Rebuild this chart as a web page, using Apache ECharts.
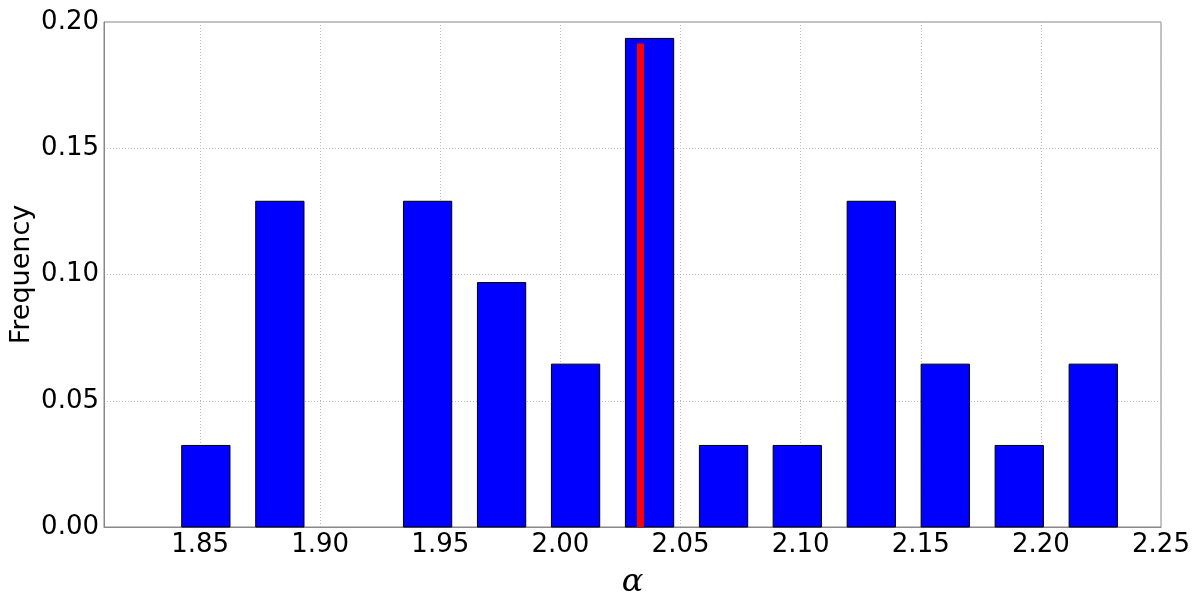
<!DOCTYPE html>
<html><head><meta charset="utf-8">
<script src="https://cdn.jsdelivr.net/npm/echarts@6/dist/echarts.min.js"></script>
<style>html,body{margin:0;padding:0;background:#fff}#c{width:1200px;height:594px}</style>
</head><body><div id="c"></div>
<script>
// Histogram bin centres (alpha) and normalised frequencies
const binCenters = [1.8524, 1.8832, 1.9140, 1.9447, 1.9755, 2.0063, 2.0371, 2.0679, 2.0986, 2.1294, 2.1602, 2.1910, 2.2218];
const frequencies = [0.0323, 0.1290, 0.0, 0.1290, 0.0968, 0.0645, 0.1935, 0.0323, 0.0323, 0.1290, 0.0645, 0.0323, 0.0645];
const barDataWidth = 0.0201;
// Reference marker (red line)
const markerX = 2.0333;
const markerTop = 0.1915;
const xTickLabels = ['1.85','1.90','1.95','2.00','2.05','2.10','2.15','2.20','2.25'];
const yTickLabels = ['0.00','0.05','0.10','0.15','0.20'];

const chart = echarts.init(document.getElementById('c'));
const font = 'DejaVu Sans';
chart.setOption({
  animation: false,
  grid: {left: 104, right: 39, top: 22, bottom: 67, show: true, borderColor: '#888', borderWidth: 1,
    backgroundColor: 'transparent', containLabel: false, outerBoundsMode: 'none'},
  xAxis: {
    type: 'value', min: 1.8100, max: 2.25, splitNumber: 9,
    name: 'α', nameLocation: 'middle', nameGap: 40, nameMoveOverlap: false,
    nameTextStyle: {fontFamily: 'DejaVu Serif', fontStyle: 'italic', fontSize: 32, color: '#000'},
    axisLine: {show: true, lineStyle: {color: '#888'}},
    axisTick: {show: false},
    axisLabel: {showMinLabel: false, showMaxLabel: true, fontFamily: font, fontSize: 26, color: '#000', margin: 5,
      formatter: v => { const s = (Math.round(v * 100) / 100).toFixed(2); return xTickLabels.includes(s) && Math.abs(v - parseFloat(s)) < 1e-6 ? s : ''; }},
    splitLine: {show: true, lineStyle: {color: '#bbb', type: [1, 2], width: 1}}
  },
  yAxis: {
    type: 'value', min: 0, max: 0.2, interval: 0.05,
    name: 'Frequency', nameLocation: 'middle', nameGap: 69, nameRotate: 90, nameMoveOverlap: false,
    nameTextStyle: {fontFamily: font, fontSize: 27, color: '#000'},
    axisLine: {show: true, lineStyle: {color: '#888'}},
    axisTick: {show: false},
    axisLabel: {fontFamily: font, fontSize: 26, color: '#000', margin: 5,
      formatter: (v, i) => yTickLabels[i] !== undefined ? yTickLabels[i] : v.toFixed(2)},
    splitLine: {show: true, lineStyle: {color: '#bbb', type: [1, 2], width: 1}}
  },
  series: [
    {
      type: 'custom',
      data: binCenters.map((c, i) => [c, frequencies[i]]),
      renderItem: function (params, api) {
        const c = api.value(0), f = api.value(1);
        if (f <= 0) return null;
        const p0 = api.coord([c - barDataWidth / 2, f]);
        const p1 = api.coord([c + barDataWidth / 2, 0]);
        return {type: 'rect', shape: {x: p0[0], y: p0[1], width: p1[0] - p0[0], height: p1[1] - p0[1]},
          style: {fill: '#0000ff', stroke: '#000', lineWidth: 1}};
      },
      z: 2
    },
    {
      type: 'line',
      data: [[markerX, 0], [markerX, markerTop]],
      showSymbol: false, symbol: 'none',
      lineStyle: {color: '#ff0000', width: 7, cap: 'butt'},
      z: 3
    }
  ]
});
</script></body></html>
